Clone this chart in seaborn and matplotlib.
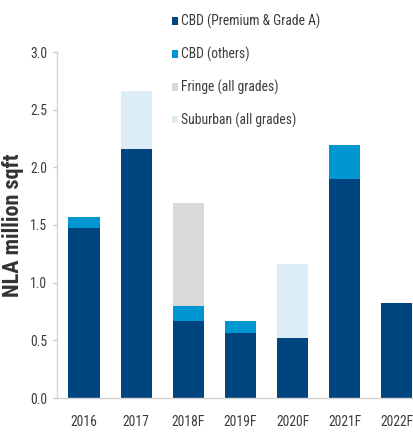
import os
import matplotlib
matplotlib.use("Agg")
import matplotlib.pyplot as plt
from matplotlib import font_manager as fm
from matplotlib.font_manager import FontProperties
from matplotlib.textpath import TextToPath
from matplotlib.patches import Patch
import seaborn as sns
import numpy as np
import pandas as pd

years = ["2016", "2017", "2018F", "2019F", "2020F", "2021F", "2022F"]
cbd_premium = [1.47, 2.16, 0.665, 0.56, 0.52, 1.90, 0.82]
cbd_others = [0.10, 0.0, 0.135, 0.105, 0.0, 0.29, 0.0]
fringe = [0.0, 0.0, 0.89, 0.0, 0.0, 0.0, 0.0]
suburban = [0.0, 0.50, 0.0, 0.0, 0.645, 0.0, 0.0]

series_names = ["CBD (Premium & Grade A)", "CBD (others)", "Fringe (all grades)", "Suburban (all grades)"]
series_vals = [cbd_premium, cbd_others, fringe, suburban]
colors = ["#00457F", "#0096D1", "#D9D9D9", "#DDEDF8"]
ytick_vals = [0.0, 0.5, 1.0, 1.5, 2.0, 2.5, 3.0]
ylabel_text = "NLA million sqft"

DPI = 100

# ---- pick a narrow / condensed font if one is installed ----
BAD = ("italic", "oblique", "light", "thin", "black", "medium", "semibold", "extrabold",
       "semicondensed", "semi-condensed", "extracondensed", "extra-condensed", "ultra")


def find_condensed(bold):
    prefs = ["liberation sans narrow", "arial narrow", "roboto condensed", "open sans condensed",
             "noto sans condensed", "dejavu sans condensed", "dejavu sans", "noto sans"]
    found = {}
    for f in fm.fontManager.ttflist:
        fn = os.path.basename(f.fname).lower()
        if not (("narrow" in fn) or ("condensed" in fn)):
            continue
        if any(b in fn for b in BAD):
            continue
        is_bold = "bold" in fn
        if is_bold != bold:
            continue
        key = f.name.lower()
        if "narrow" in fn and "narrow" not in key:
            key = key + " narrow"
        if "condensed" in fn and "condensed" not in key:
            key = key + " condensed"
        found.setdefault(key, f.fname)
    for p in prefs:
        for k, v in found.items():
            if k.startswith(p):
                return v
    return next(iter(found.values()), None)


reg_file = find_condensed(False)
bold_file = find_condensed(True)
reg_prop = FontProperties(fname=reg_file) if reg_file else FontProperties(family="Liberation Sans")
bold_prop = (FontProperties(fname=bold_file) if bold_file
             else FontProperties(family="Liberation Sans", weight="bold"))

t2p = TextToPath()


def fit_size(text, prop, target_px, max_pt):
    p = prop.copy()
    p.set_size(10)
    w, h, d = t2p.get_text_width_height_descent(text, p, ismath=False)
    size = 10 * target_px / (w * DPI / 72)
    return min(size, max_pt)


fs_leg = fit_size(series_names[0], reg_prop, 139, 14)
fs_xt = fit_size("2016", reg_prop, 28, 14)
fs_yt = fit_size("3.0", reg_prop, 17, 14)
fs_tick = min(fs_xt, fs_yt)
fs_ylab = fit_size(ylabel_text, bold_prop, 170, 16)


def fp(prop, size):
    p = prop.copy()
    p.set_size(size)
    return p


sns.set_theme(style="white")
plt.rcParams["font.family"] = ["Liberation Sans", "DejaVu Sans"]

fig = plt.figure(figsize=(4.13, 4.32), dpi=DPI)
ax = fig.add_axes([57 / 413, 1 - 398 / 432, 1 - 57 / 413, (398 - 52) / 432])

bottom = np.zeros(len(years))
for name, vals, c in zip(series_names, series_vals, colors):
    df = pd.DataFrame({"year": years, "value": vals})
    sns.barplot(data=df, x="year", y="value", color=c, width=0.6,
                bottom=bottom.copy(), linewidth=0, saturation=1, ax=ax)
    bottom += np.array(vals)

ax.set_ylim(0, 3.0)
ax.set_xlim(-0.52, 6.31)
ax.set_yticks(ytick_vals)
ax.set_yticklabels([f"{v:.1f}" for v in ytick_vals], fontproperties=fp(reg_prop, fs_tick))
ax.set_xticks(range(len(years)))
ax.set_xticklabels(years, fontproperties=fp(reg_prop, fs_tick))
ax.set_xlabel("")
ax.set_ylabel("")
for s in ["top", "right"]:
    ax.spines[s].set_visible(False)
for s in ["left", "bottom"]:
    ax.spines[s].set_color("#D4D4D4")
    ax.spines[s].set_linewidth(1.0)
ax.tick_params(axis="y", left=True, length=3, width=1, color="#C8C8C8",
               labelcolor="#3C3C3C", pad=4)
ax.tick_params(axis="x", bottom=False, length=0, labelcolor="#3C3C3C", pad=12)

fig.text(13.5 / 413, 1 - 225 / 432, ylabel_text, rotation=90, ha="center", va="center",
         fontproperties=fp(bold_prop, fs_ylab), color="#333333")

fs_leg_px = fs_leg * DPI / 72
handles = [Patch(facecolor=c, edgecolor="none") for c in colors]
fig.legend(handles, series_names, loc="upper left", bbox_to_anchor=(172 / 413, 1 - 14 / 432),
           frameon=False, prop=fp(reg_prop, fs_leg), handlelength=0.45, handleheight=0.45,
           handletextpad=0.2, labelspacing=0.78 * 14 / fs_leg + 2.4 / fs_leg_px,
           borderpad=0, borderaxespad=0, labelcolor="#3C3C3C")

fig.savefig("out.png", dpi=DPI)
